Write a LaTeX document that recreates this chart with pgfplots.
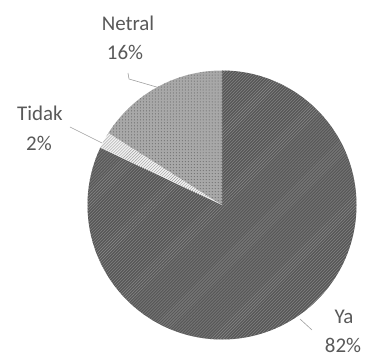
\documentclass[border=0pt]{standalone}
\usepackage{pgfplots}
\pgfplotsset{compat=1.18}
\usepackage{pgfplotstable}
\usetikzlibrary{patterns}
\usepackage{fontspec}
\setmainfont{Carlito}
\definecolor{txt}{HTML}{595959}
\definecolor{yafill}{HTML}{585858}
\definecolor{yaline}{HTML}{8C8C8C}
\definecolor{netfill}{HTML}{A8A8A8}
\definecolor{netdot}{HTML}{5A5A5A}
\definecolor{tidfill}{HTML}{F2F2F2}
\definecolor{tidline}{HTML}{9A9A9A}
\definecolor{leader}{HTML}{A0A0A0}

\pgfplotstableread{
label value
Ya 82
Tidak 2
Netral 16
}\piedata
\pgfplotstablegetelem{0}{value}\of\piedata \let\va\pgfplotsretval
\pgfplotstablegetelem{1}{value}\of\piedata \let\vb\pgfplotsretval
\pgfplotstablegetelem{2}{value}\of\piedata \let\vc\pgfplotsretval
\pgfmathsetmacro{\aA}{90}
\pgfmathsetmacro{\aB}{90-3.6*\va}
\pgfmathsetmacro{\aC}{\aB-3.6*\vb}
\pgfmathsetmacro{\aD}{\aC-3.6*\vc}
\def\R{134.5bp}

\begin{document}
\begin{tikzpicture}
\begin{axis}[hide axis, scale only axis, width=366bp, height=356bp,
  xmin=0, xmax=366, ymin=0, ymax=356, clip=false]
\coordinate (bl) at (axis cs:0,0);
\coordinate (tr) at (axis cs:366,356);
% Ya
\fill[yafill] (axis cs:222,151) -- ++(\aA:\R) arc[start angle=\aA, end angle=\aB, radius=\R] -- cycle;
\fill[pattern=north east lines, pattern color=yaline] (axis cs:222,151) -- ++(\aA:\R) arc[start angle=\aA, end angle=\aB, radius=\R] -- cycle;
% Tidak
\fill[tidfill] (axis cs:222,151) -- ++(\aB:\R) arc[start angle=\aB, end angle=\aC, radius=\R] -- cycle;
\fill[pattern=north east lines, pattern color=tidline] (axis cs:222,151) -- ++(\aB:\R) arc[start angle=\aB, end angle=\aC, radius=\R] -- cycle;
% Netral
\fill[netfill] (axis cs:222,151) -- ++(\aC:\R) arc[start angle=\aC, end angle=\aD, radius=\R] -- cycle;
\fill[pattern=dots, pattern color=netdot] (axis cs:222,151) -- ++(\aC:\R) arc[start angle=\aC, end angle=\aD, radius=\R] -- cycle;
% leader lines
\draw[leader, line width=0.6pt] (axis cs:128,283) -- (axis cs:129,277) -- (axis cs:160,268);
\draw[leader, line width=0.6pt] (axis cs:70,229) -- (axis cs:102,213);
\draw[leader, line width=0.6pt] (axis cs:300,37) -- (axis cs:312,26);
% labels
\tikzset{lbl/.style={text=txt, font=\fontsize{21}{24}\selectfont, inner sep=0pt}}
\node[lbl] at (axis cs:128,333) {Netral};
\node[lbl] at (axis cs:125,304) {16\%};
\node[lbl] at (axis cs:40,243) {Tidak};
\node[lbl] at (axis cs:39,213) {2\%};
\node[lbl] at (axis cs:344,39) {Ya};
\node[lbl] at (axis cs:343,11) {82\%};
\end{axis}
\pgfresetboundingbox
\path (bl) rectangle (tr);
\end{tikzpicture}
\end{document}
